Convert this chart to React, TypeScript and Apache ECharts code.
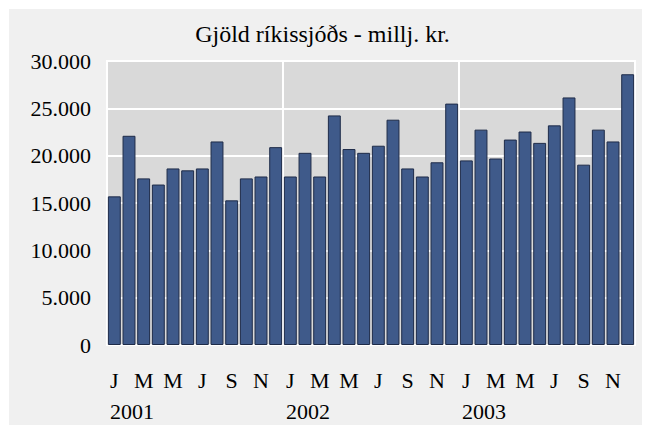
import React, { useEffect, useRef } from "react";
import * as echarts from "echarts";

const monthLabels = ["J", "F", "M", "A", "M", "J", "J", "A", "S", "O", "N", "D"];
const years = ["2001", "2002", "2003"];
const values2001 = [15700, 22100, 17600, 16950, 18650, 18450, 18650, 21500, 15280, 17600, 17800, 20900];
const values2002 = [17800, 20300, 17800, 24250, 20700, 20300, 21050, 23800, 18650, 17800, 19300, 25500];
const values2003 = [19500, 22750, 19700, 21700, 22550, 21350, 23200, 26150, 19050, 22750, 21500, 28600];
const yTicks = [0, 5000, 10000, 15000, 20000, 25000, 30000];

const FONT = "'Liberation Serif', 'Times New Roman', serif";

export default function App() {
  const ref = useRef<HTMLDivElement>(null);
  useEffect(() => {
    if (!ref.current) return;
    const chart = echarts.init(ref.current, undefined, { renderer: "svg" });
    const categories: string[] = [];
    years.forEach((y) => monthLabels.forEach((m) => categories.push(m)));
    const data = [...values2001, ...values2002, ...values2003];
    const fmt = (v: number) => {
      const s = Math.round(v).toString();
      return s.replace(/\B(?=(\d{3})+(?!\d))/g, ".");
    };
    chart.setOption({
      animation: false,
      backgroundColor: "#ffffff",
      textStyle: { fontFamily: FONT },
      graphic: [
        {
          type: "rect",
          shape: { x: 9, y: 9, width: 633, height: 420 },
          style: { fill: "#f0f0f0" },
          z: -10,
          silent: true,
        },
      ],
      title: {
        text: "Gjöld ríkissjóðs - millj. kr.",
        left: "center",
        top: 17,
        textStyle: { fontFamily: FONT, fontSize: 24, fontWeight: "normal", color: "#000" },
      },
      grid: {
        left: 107,
        right: 10,
        top: 61,
        bottom: 80,
        show: true,
        backgroundColor: "#d9d9d9",
        borderColor: "#ffffff",
        borderWidth: 2,
      },
      xAxis: [
        {
          type: "category",
          data: categories,
          position: "bottom",
          axisLine: { show: false },
          axisTick: { show: false },
          splitLine: { show: false },
          axisLabel: {
            interval: 1,
            margin: 24,
            fontFamily: FONT,
            fontSize: 22,
            color: "#000",
          },
        },
        {
          type: "value",
          min: 0,
          max: 36,
          interval: 12,
          position: "bottom",
          offset: 31,
          axisLine: { show: false },
          axisTick: { show: false },
          splitLine: { show: true, lineStyle: { color: "#ffffff", width: 2 } },
          axisLabel: {
            margin: 24,
            align: "left",
            padding: [0, 0, 0, 3],
            fontFamily: FONT,
            fontSize: 22,
            color: "#000",
            formatter: (v: number) => (v % 12 === 0 && v / 12 < years.length ? years[v / 12] : ""),
          },
        },
      ],
      yAxis: {
        type: "value",
        min: yTicks[0],
        max: yTicks[yTicks.length - 1],
        interval: 5000,
        axisLine: { show: false },
        axisTick: { show: false },
        splitLine: { show: true, lineStyle: { color: "#ffffff", width: 2 } },
        axisLabel: {
          margin: 16,
          fontFamily: FONT,
          fontSize: 22,
          color: "#000",
          formatter: (v: number) => fmt(v),
        },
      },
      series: [
        {
          type: "bar",
          xAxisIndex: 0,
          data,
          barCategoryGap: "12%",
          itemStyle: { color: "#3f5a8a", borderColor: "#1e2b48", borderWidth: 1 },
        },
      ],
    });
    return () => chart.dispose();
  }, []);
  return (
    <div
      ref={ref}
      style={{ position: "fixed", left: 0, top: 0, width: 645, height: 425 }}
    />
  );
}
